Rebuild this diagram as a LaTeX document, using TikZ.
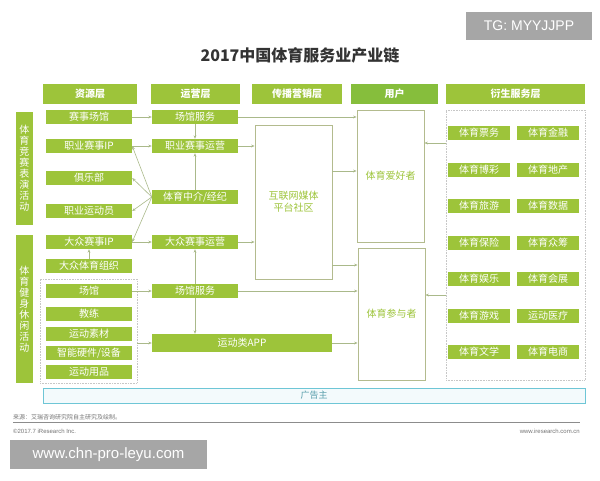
\documentclass[tikz,border=0pt]{standalone}
\usepackage{fontspec}
\setmainfont{Noto Sans CJK SC}
\newfontfamily\latin{Liberation Sans}
\usepackage{tikz}
\usetikzlibrary{arrows.meta}
\definecolor{leaf}{HTML}{9DC43A}
\definecolor{leafdark}{HTML}{86BE3C}
\definecolor{olive}{HTML}{AAB98A}
\definecolor{frame}{HTML}{B3BB8E}
\definecolor{adcyan}{HTML}{6EC6D6}
\definecolor{mark}{HTML}{A6A6A6}
\tikzset{
gbox/.style={fill=leaf, text=white, inner sep=0pt, minimum height=14pt,
  font=\fontsize{10}{10}\selectfont},
resbox/.style={gbox, minimum width=86pt},
opbox/.style={gbox, minimum width=86pt},
dervbox/.style={gbox, minimum width=62pt},
headbar/.style={gbox, minimum height=20pt, font=\fontsize{10}{10}\selectfont\bfseries},
sidebar/.style={gbox, minimum width=17pt, align=center,
  font=\fontsize{10}{11}\selectfont},
userbox/.style={draw=frame, fill=white, line width=0.8pt, inner sep=0pt,
  text=leaf, align=center, font=\fontsize{10}{12}\selectfont},
groupbox/.style={draw=black!22, densely dotted, line width=0.6pt, inner sep=0pt},
arr/.style={draw=olive, line width=0.6pt, -{Stealth[length=3.5pt,width=2.8pt]}},
wmark/.style={fill=mark, text=white, inner sep=0pt, font=\latin}
}

\begin{document}
\begin{tikzpicture}[x=1pt,y=-1pt]
    \useasboundingbox (0,0) rectangle (600,480);

                \node[font=\fontsize{16}{16}\selectfont\bfseries, text=black!80] (title) at (300,55) {2017中国体育服务业产业链};
                \node[wmark, minimum width=126pt, minimum height=28pt, font=\latin\fontsize{14}{14}\selectfont] (tg) at (529,26) {TG: MYYJJPP};

                \node[headbar, minimum width=94pt] (h1) at (90,94) {资源层};
                \node[headbar, minimum width=89pt] (h2) at (195.5,94) {运营层};
                \node[headbar, minimum width=90pt] (h3) at (297,94) {传播营销层};
                \node[headbar, minimum width=87pt, fill=leafdark] (h4) at (394.5,94) {用户};
                \node[headbar, minimum width=139pt] (h5) at (515.5,94) {衍生服务层};

                \node[sidebar, minimum height=113pt] (s1) at (24.5,168.5) {体\\育\\竞\\赛\\表\\演\\活\\动};
                \node[sidebar, minimum height=148pt] (s2) at (24.5,309) {体\\育\\健\\身\\休\\闲\\活\\动};

                \node[groupbox, minimum width=97pt, minimum height=104pt] (grp) at (88.5,331) {};
                \node[resbox] (r1) at (89,117) {赛事场馆};
                \node[resbox] (r2) at (89,146) {职业赛事IP};
                \node[resbox] (r3) at (89,178) {俱乐部};
                \node[resbox] (r4) at (89,211) {职业运动员};
                \node[resbox] (r5) at (89,242) {大众赛事IP};
                \node[resbox] (r6) at (89,266) {大众体育组织};
                \node[resbox] (r7) at (89,291) {场馆};
                \node[resbox] (r8) at (89,314) {教练};
                \node[resbox] (r9) at (89,334) {运动素材};
                \node[resbox] (r10) at (89,353) {智能硬件/设备};
                \node[resbox] (r11) at (89,372) {运动用品};

                \node[opbox] (o1) at (195,117) {场馆服务};
                \node[opbox] (o2) at (195,146) {职业赛事运营};
                \node[opbox] (o3) at (195,197) {体育中介/经纪};
                \node[opbox] (o4) at (195,242) {大众赛事运营};
                \node[opbox] (o5) at (195,291) {场馆服务};
                \node[gbox, minimum width=180pt, minimum height=18pt] (o6) at (242,343) {运动类APP};

                \node[userbox, minimum width=77pt, minimum height=154pt] (media) at (293.5,202) {互联网媒体\\平台社区};
                \node[userbox, minimum width=67pt, minimum height=132pt] (fan) at (390.5,176) {体育爱好者};
                \node[userbox, minimum width=67pt, minimum height=132pt] (part) at (391.5,314) {体育参与者};

                \node[groupbox, minimum width=139pt, minimum height=270pt] (derv) at (515.5,245) {};
                \node[dervbox] (d1) at (479,133) {体育票务};
                \node[dervbox] (d2) at (548,133) {体育金融};
                \node[dervbox] (d3) at (479,170) {体育博彩};
                \node[dervbox] (d4) at (548,170) {体育地产};
                \node[dervbox] (d5) at (479,206) {体育旅游};
                \node[dervbox] (d6) at (548,206) {体育数据};
                \node[dervbox] (d7) at (479,243) {体育保险};
                \node[dervbox] (d8) at (548,243) {体育众筹};
                \node[dervbox] (d9) at (479,279) {体育娱乐};
                \node[dervbox] (d10) at (548,279) {体育会展};
                \node[dervbox] (d11) at (479,316) {体育游戏};
                \node[dervbox] (d12) at (548,316) {运动医疗};
                \node[dervbox] (d13) at (479,352) {体育文学};
                \node[dervbox] (d14) at (548,352) {体育电商};

                \node[draw=adcyan, fill=adcyan!8, line width=0.8pt, inner sep=0pt, minimum width=542pt, minimum height=15pt,
                      text=adcyan!80!black, font=\fontsize{9}{9}\selectfont] (ad) at (314,395.5) {广告主};

                \coordinate (m1) at (media.east |- 0,171);
                \coordinate (m2) at (media.east |- 0,265);
                \coordinate (v1) at (derv.west |- 0,143);
                \coordinate (v2) at (derv.west |- 0,295);

                \draw[arr] (r1) -- (o1);
                \draw[arr] (r2) -- (o2);
                \draw[arr] (r5) -- (o4);
                \draw[arr] (r7) -- (o5);
                \draw[arr] (r6) -- (r5);
                \draw[arr] (o1) -- (o2);
                \draw[arr] (o3) -- (o2);
                \draw[arr] (o3.west) -- (r2.east);
                \draw[arr] (o3.west) -- (r3.east);
                \draw[arr] (o3.west) -- (r4.east);
                \draw[arr] (o3.west) -- (r5.east);
                \draw[arr] (o5) -- (o4);
                \draw[arr] (o5.south) -- (o5.south |- o6.north);
                \draw[arr] (o6.west -| grp.east) -- (o6.west);
                \draw[arr] (o1.east) -- (o1.east -| fan.west);
                \draw[arr] (o2.east) -- (o2.east -| media.west);
                \draw[arr] (o4.east) -- (o4.east -| media.west);
                \draw[arr] (m1) -- (m1 -| fan.west);
                \draw[arr] (m2) -- (m2 -| part.west);
                \draw[arr] (o5.east) -- (o5.east -| part.west);
                \draw[arr] (o6.east) -- (o6.east -| part.west);
                \draw[arr] (v1) -- (v1 -| fan.east);
                \draw[arr] (v2) -- (v2 -| part.east);

                \node[anchor=west, inner sep=0pt, text=black!55, font=\fontsize{6}{6}\selectfont] (src) at (13,417) {来源：艾瑞咨询研究院自主研究及绘制。};
                \draw[black!45, line width=0.5pt] (13,422) -- (580,422);
                \node[anchor=west, inner sep=0pt, text=black!55, font=\latin\fontsize{6}{6}\selectfont] (copy) at (13,431) {©2017.7 iResearch Inc.};
                \node[anchor=east, inner sep=0pt, text=black!55, font=\latin\fontsize{6}{6}\selectfont] (site) at (580,431) {www.iresearch.com.cn};

                \node[wmark, minimum width=197pt, minimum height=29pt, font=\latin\fontsize{15}{15}\selectfont] (www) at (108.5,454.5) {www.chn-pro-leyu.com};

            \end{tikzpicture}
\end{document}
